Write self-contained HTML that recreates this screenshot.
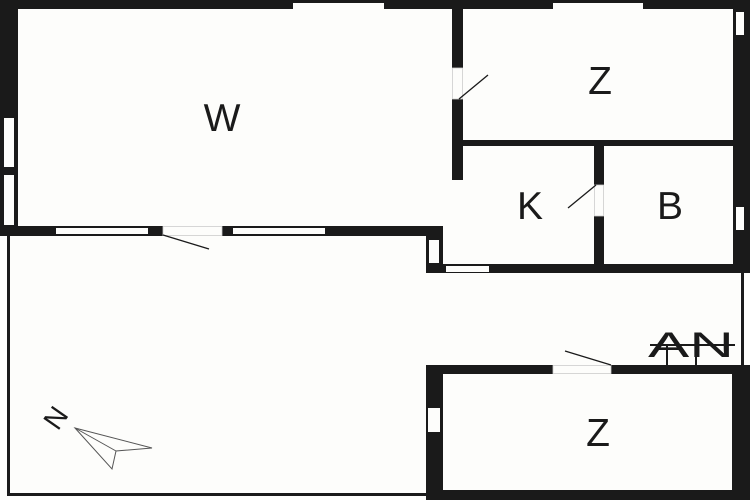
<!DOCTYPE html>
<html><head><meta charset="utf-8"><style>
html,body{margin:0;padding:0;background:#fdfdfb;}
svg{display:block}
text{font-family:"Liberation Sans",sans-serif;fill:#1a1a1a}
</style></head><body>
<svg width="750" height="500" viewBox="0 0 750 500" xmlns="http://www.w3.org/2000/svg">
<rect width="750" height="500" fill="#fdfdfb"/>
<g fill="#1a1a1a">
<rect x="0" y="0" width="750" height="9"/>
<rect x="0" y="0" width="18" height="236"/>
<rect x="733" y="0" width="17" height="273"/>
<rect x="452" y="9" width="11" height="171"/>
<rect x="463" y="140" width="270" height="6"/>
<rect x="594" y="146" width="10" height="118"/>
<rect x="0" y="226" width="443" height="10"/>
<rect x="426" y="226" width="17" height="47"/>
<rect x="426" y="264" width="324" height="9"/>
<rect x="426" y="365" width="324" height="9"/>
<rect x="426" y="490" width="324" height="10"/>
<rect x="426" y="365" width="17" height="135"/>
<rect x="732" y="365" width="18" height="135"/>
<rect x="7" y="236" width="3" height="260"/>
<rect x="7" y="493" width="420" height="3"/>
<rect x="741" y="273" width="3" height="92"/>
</g>
<g fill="#fdfdfb">
<rect x="293" y="3" width="91" height="6"/>
<rect x="553" y="3" width="90" height="6"/>
<rect x="4" y="118" width="10" height="49"/>
<rect x="4" y="175" width="10" height="50"/>
<rect x="736" y="12" width="8" height="23"/>
<rect x="736" y="207" width="8" height="23"/>
<rect x="452" y="68" width="11" height="31"/>
<rect x="594" y="185" width="10" height="31"/>
<rect x="56" y="228" width="92" height="6"/>
<rect x="233" y="228" width="92" height="6"/>
<rect x="163" y="226" width="59" height="10"/>
<rect x="429" y="240" width="10" height="23"/>
<rect x="446" y="266" width="43" height="6"/>
<rect x="553" y="365" width="58" height="9"/>
<rect x="428" y="408" width="12" height="24"/>
</g>
<g stroke="#ccc" stroke-width="0.8" fill="none">
<rect x="452.5" y="68" width="10" height="31"/>
<rect x="594.5" y="185" width="9" height="31"/>
<rect x="163" y="226.5" width="59" height="9"/>
<rect x="553" y="365.5" width="58" height="8"/>
</g>
<g stroke="#1a1a1a" stroke-width="1.3" fill="none">
<line x1="459" y1="99" x2="488" y2="75"/>
<line x1="596" y1="185" x2="568" y2="208"/>
<line x1="163" y1="235" x2="209" y2="249"/>
<line x1="611" y1="365" x2="565" y2="351"/>
</g>
<text x="222" y="131" font-size="39" text-anchor="middle">W</text>
<text x="600" y="94" font-size="39" text-anchor="middle">Z</text>
<text x="530" y="219" font-size="39" text-anchor="middle">K</text>
<text x="670" y="219" font-size="39" text-anchor="middle">B</text>
<text x="598" y="446" font-size="39" text-anchor="middle">Z</text>
<text x="691" y="357" font-size="35" text-anchor="middle" textLength="86" lengthAdjust="spacingAndGlyphs">AN</text>
<g stroke="#1a1a1a" stroke-width="2">
<line x1="650" y1="345" x2="735" y2="345"/>
<line x1="667" y1="345" x2="667" y2="366"/>
<line x1="696" y1="345" x2="696" y2="366"/>
</g>
<text x="56" y="428" font-size="28" text-anchor="middle" transform="rotate(125 56 418)">N</text>
<polygon points="75,428 152,448 116,451 112,469" fill="none" stroke="#555" stroke-width="1"/>
<line x1="75" y1="428" x2="116" y2="451" stroke="#555" stroke-width="1"/>
</svg>
</body></html>
